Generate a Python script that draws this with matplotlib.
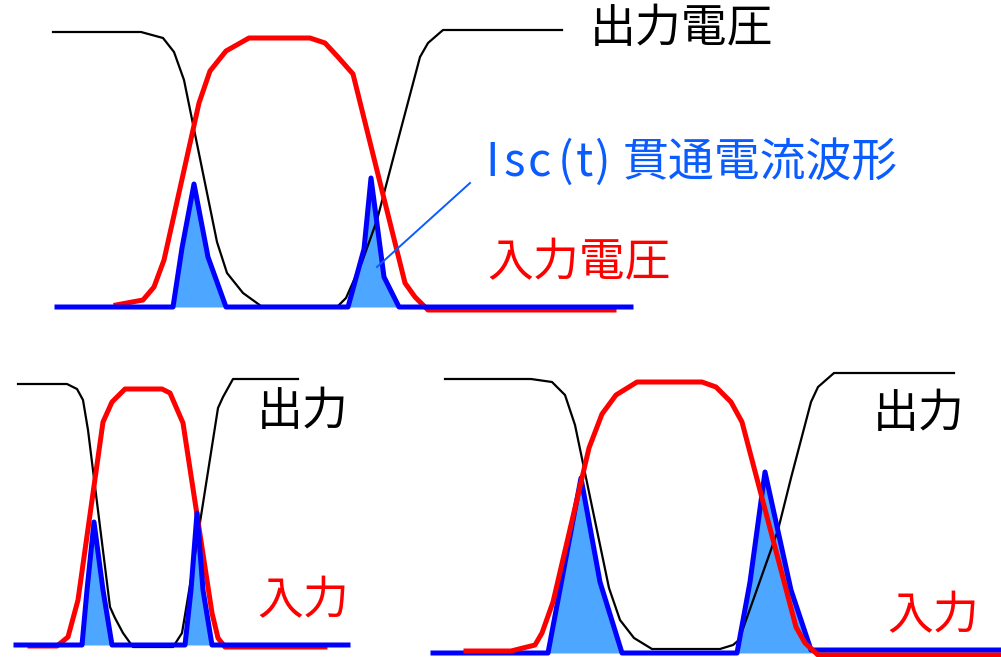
import matplotlib.pyplot as plt

plt.rcParams['font.family'] = ['Noto Sans CJK JP', 'DejaVu Sans']

RED = '#ff0000'
BLUE = '#0000ff'
FILL = '#4da6ff'
TXTBLUE = '#0a5cff'

# top panel (pixel coords, y down)
top_out_x = [53, 141, 163, 174, 184, 217, 227, 243, 261, 338, 346, 362, 377, 398, 420, 428, 443, 562]
top_out_y = [32, 32, 38, 52, 80, 242, 273, 293, 306, 306, 298, 262, 220, 140, 57, 43, 30, 30]
top_in_x = [116, 143, 154, 164, 199, 210, 226, 249, 310, 325, 338, 353, 405, 415, 428, 614]
top_in_y = [305, 300, 287, 260, 103, 71, 51, 38, 38, 43, 57, 74, 283, 297, 310, 310]
top_isc_x = [57, 173, 182, 194, 208, 226, 348, 364, 371, 384, 399, 631]
top_isc_y = [307, 307, 248, 184, 257, 307, 307, 249, 178, 277, 307, 307]

# bottom-left panel
bl_out_x = [18, 67, 77, 83, 88, 110, 115, 123, 133, 173, 182, 193, 218, 223, 233, 298]
bl_out_y = [384, 384, 389, 400, 430, 607, 618, 633, 647, 647, 633, 567, 408, 397, 379, 379]
bl_in_x = [30, 57, 68, 78, 103, 112, 125, 162, 170, 183, 212, 218, 225, 325]
bl_in_y = [646, 646, 637, 600, 422, 402, 389, 389, 393, 423, 613, 638, 647, 647]
bl_isc_x = [16, 82, 87, 94, 103, 112, 185, 191, 197, 203, 212, 348]
bl_isc_y = [645, 645, 590, 522, 590, 645, 645, 590, 513, 590, 645, 645]

# bottom-right panel
br_out_x = [445, 531, 552, 565, 575, 609, 620, 634, 652, 720, 733, 739, 778, 791, 811, 818, 834, 954]
br_out_y = [379, 379, 382, 395, 425, 588, 620, 638, 649, 649, 645, 640, 530, 478, 402, 387, 373, 373]
br_in_x = [466, 511, 535, 542, 553, 589, 602, 616, 637, 702, 716, 731, 742, 796, 805, 818, 1001]
br_in_y = [651, 651, 645, 633, 602, 448, 414, 395, 382, 382, 387, 402, 422, 627, 643, 655, 655]
br_isc_x = [433, 548, 581, 600, 622, 737, 750, 765, 791, 811, 1001]
br_isc_y = [653, 653, 478, 582, 653, 653, 582, 472, 590, 650, 650]

fig = plt.figure(figsize=(10.01, 6.57), dpi=100)
ax = fig.add_axes([0, 0, 1, 1])
ax.set_xlim(0, 1001)
ax.set_ylim(657, 0)
ax.axis('off')

# top
ax.fill_between(top_isc_x, top_isc_y, top_isc_y[0], color=FILL, lw=0, zorder=1)
ax.plot(top_out_x, top_out_y, color='black', lw=1.6, zorder=2)
ax.plot(top_in_x, top_in_y, color=RED, lw=3.6, zorder=3, solid_joinstyle='round')
ax.plot(top_isc_x, top_isc_y, color=BLUE, lw=3.6, zorder=4, solid_joinstyle='round')
ax.plot([470, 377], [183, 267], color=TXTBLUE, lw=1.4, zorder=5)

# bottom-left
ax.fill_between(bl_isc_x, bl_isc_y, bl_isc_y[0], color=FILL, lw=0, zorder=1)
ax.plot(bl_out_x, bl_out_y, color='black', lw=1.6, zorder=2)
ax.plot(bl_in_x, bl_in_y, color=RED, lw=3.6, zorder=3, solid_joinstyle='round')
ax.plot(bl_isc_x, bl_isc_y, color=BLUE, lw=3.6, zorder=4, solid_joinstyle='round')

# bottom-right
ax.fill_between(br_isc_x, br_isc_y, br_isc_y[0], color=FILL, lw=0, zorder=1)
ax.plot(br_out_x, br_out_y, color='black', lw=1.6, zorder=2)
ax.plot(br_isc_x, br_isc_y, color=BLUE, lw=3.6, zorder=3, solid_joinstyle='round')
ax.plot(br_in_x, br_in_y, color=RED, lw=3.6, zorder=4, solid_joinstyle='round')

fs = 33
ax.text(590, 29, '出力電圧', fontsize=fs, color='black', va='center', ha='left')
ax.text(487, 263, '入力電圧', fontsize=fs, color=RED, va='center', ha='left')
for ch, cx in zip('Isc(t)', [492, 514, 539, 566, 584, 602]):
    ax.text(cx, 163, ch, fontsize=fs, color=TXTBLUE, va='center', ha='center')
ax.text(623, 163, '貫通電流波形', fontsize=fs, color=TXTBLUE, va='center', ha='left')
ax.text(303, 412, '出力', fontsize=fs, color='black', va='center', ha='center')
ax.text(303, 601, '入力', fontsize=fs, color=RED, va='center', ha='center')
ax.text(919, 414, '出力', fontsize=fs, color='black', va='center', ha='center')
ax.text(933, 616, '入力', fontsize=fs, color=RED, va='center', ha='center')

fig.savefig('out.png', dpi=100)
